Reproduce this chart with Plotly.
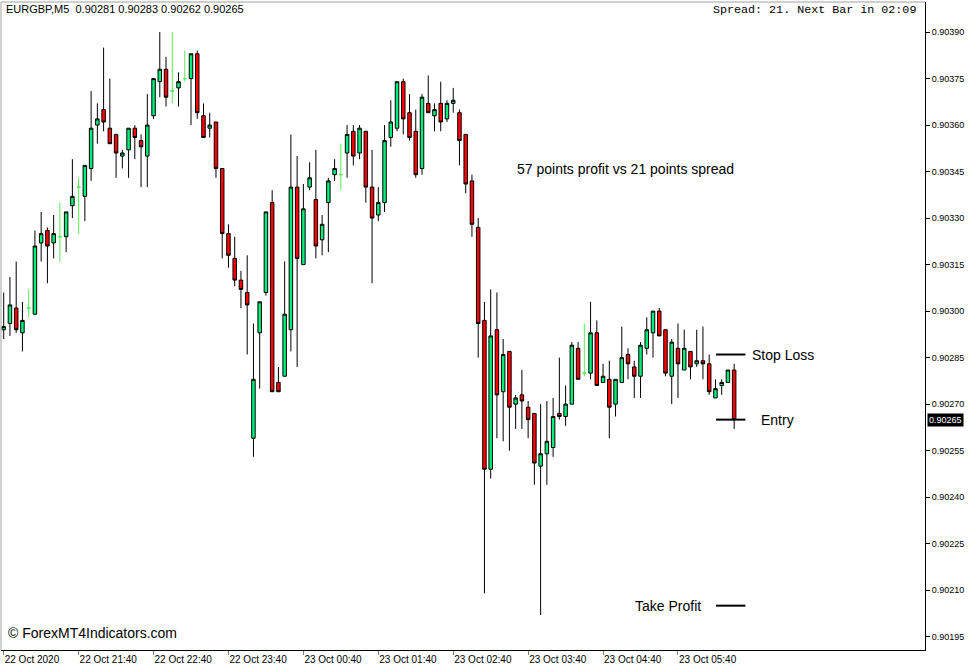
import plotly.graph_objects as go
import pandas as pd

start_time = "2020-10-22 20:40"

opens = [0.90294,0.90296,0.90301,0.90293,0.90301,0.90299,0.90322,0.90326,0.90322,0.90324,
         0.90324,0.90334,0.90340,0.90337,0.90346,0.90360,0.90365,0.90359,0.90357,0.90350,
         0.90352,0.90359,0.90355,0.90350,0.90363,0.90374,0.90378,0.90371,0.90372,0.90375,
         0.90375,0.90383,0.90363,0.90359,0.90361,0.90346,0.90325,0.90317,0.90310,0.90306,
         0.90259,0.90293,0.90306,0.90335,0.90277,0.90279,0.90294,0.90340,0.90315,0.90340,
         0.90336,0.90323,0.90335,0.90344,0.90344,0.90351,0.90358,0.90351,0.90358,0.90340,
         0.90331,0.90335,0.90356,0.90359,0.90374,0.90364,0.90358,0.90346,0.90367,0.90363,
         0.90367,0.90362,0.90367,0.90364,0.90357,0.90342,0.90327,0.90297,0.90249,0.90294,
         0.90274,0.90287,0.90270,0.90273,0.90269,0.90267,0.90250,0.90254,0.90256,0.90267,
         0.90266,0.90270,0.90288,0.90280,0.90280,0.90293,0.90277,0.90278,0.90270,0.90277,
         0.90286,0.90282,0.90279,0.90288,0.90293,0.90300,0.90294,0.90279,0.90288,0.90281,
         0.90287,0.90283,0.90284,0.90283,0.90272,0.90276,0.90277,0.90281]

highs = [0.90306,0.90311,0.90316,0.90303,0.90307,0.90326,0.90332,0.90327,0.90331,0.90335,
         0.90332,0.90349,0.90343,0.90347,0.90371,0.90367,0.90385,0.90375,0.90357,0.90352,
         0.90359,0.90360,0.90357,0.90370,0.90375,0.90390,0.90382,0.90390,0.90377,0.90384,
         0.90383,0.90384,0.90367,0.90364,0.90361,0.90346,0.90328,0.90324,0.90313,0.90318,
         0.90296,0.90303,0.90332,0.90339,0.90282,0.90316,0.90357,0.90350,0.90341,0.90348,
         0.90352,0.90331,0.90343,0.90349,0.90354,0.90360,0.90360,0.90360,0.90358,0.90352,
         0.90340,0.90360,0.90368,0.90374,0.90375,0.90370,0.90365,0.90370,0.90376,0.90367,
         0.90374,0.90368,0.90372,0.90365,0.90357,0.90344,0.90330,0.90303,0.90307,0.90306,
         0.90291,0.90287,0.90273,0.90281,0.90271,0.90267,0.90270,0.90271,0.90272,0.90285,
         0.90276,0.90290,0.90290,0.90296,0.90303,0.90297,0.90283,0.90284,0.90278,0.90295,
         0.90288,0.90284,0.90290,0.90298,0.90300,0.90301,0.90294,0.90291,0.90296,0.90294,
         0.90287,0.90294,0.90295,0.90286,0.90278,0.90278,0.90281,0.90283]

lows = [0.90291,0.90292,0.90293,0.90287,0.90298,0.90299,0.90316,0.90309,0.90317,0.90316,
        0.90319,0.90330,0.90325,0.90329,0.90342,0.90354,0.90358,0.90354,0.90343,0.90346,
        0.90343,0.90349,0.90340,0.90340,0.90362,0.90369,0.90366,0.90367,0.90366,0.90374,
        0.90360,0.90362,0.90356,0.90356,0.90343,0.90317,0.90314,0.90308,0.90301,0.90286,
        0.90253,0.90275,0.90305,0.90274,0.90274,0.90279,0.90287,0.90282,0.90315,0.90339,
        0.90317,0.90318,0.90319,0.90342,0.90339,0.90343,0.90347,0.90349,0.90335,0.90309,
        0.90329,0.90332,0.90353,0.90358,0.90357,0.90355,0.90343,0.90344,0.90364,0.90358,
        0.90358,0.90361,0.90364,0.90347,0.90338,0.90324,0.90285,0.90209,0.90246,0.90259,
        0.90258,0.90255,0.90262,0.90262,0.90259,0.90244,0.90202,0.90244,0.90253,0.90265,
        0.90263,0.90270,0.90278,0.90279,0.90278,0.90276,0.90277,0.90259,0.90266,0.90277,
        0.90278,0.90272,0.90272,0.90286,0.90285,0.90292,0.90279,0.90270,0.90272,0.90281,
        0.90278,0.90282,0.90278,0.90273,0.90272,0.90273,0.90277,0.90262]

closes = [0.90295,0.90302,0.90294,0.90297,0.90301,0.90321,0.90325,0.90321,0.90325,0.90324,
          0.90332,0.90337,0.90340,0.90347,0.90359,0.90362,0.90361,0.90354,0.90351,0.90351,
          0.90359,0.90356,0.90353,0.90360,0.90375,0.90378,0.90369,0.90371,0.90374,0.90375,
          0.90383,0.90364,0.90356,0.90360,0.90346,0.90325,0.90318,0.90310,0.90307,0.90302,
          0.90278,0.90303,0.90332,0.90274,0.90274,0.90299,0.90340,0.90317,0.90333,0.90343,
          0.90321,0.90328,0.90342,0.90346,0.90344,0.90357,0.90350,0.90359,0.90340,0.90330,
          0.90335,0.90355,0.90361,0.90374,0.90362,0.90356,0.90344,0.90369,0.90364,0.90365,
          0.90361,0.90367,0.90368,0.90355,0.90341,0.90328,0.90296,0.90249,0.90292,0.90273,
          0.90286,0.90269,0.90272,0.90271,0.90265,0.90251,0.90254,0.90258,0.90266,0.90266,
          0.90270,0.90289,0.90278,0.90280,0.90293,0.90276,0.90279,0.90269,0.90278,0.90285,
          0.90283,0.90279,0.90289,0.90294,0.90300,0.90292,0.90280,0.90290,0.90283,0.90288,
          0.90282,0.90284,0.90283,0.90274,0.90275,0.90277,0.90281,0.90265]

tick_times = ["2020-10-22 20:40", "2020-10-22 21:40", "2020-10-22 22:40", "2020-10-22 23:40",
              "2020-10-23 00:40", "2020-10-23 01:40", "2020-10-23 02:40", "2020-10-23 03:40",
              "2020-10-23 04:40", "2020-10-23 05:40"]
tick_labels = ["22 Oct 2020", "22 Oct 21:40", "22 Oct 22:40", "22 Oct 23:40", "23 Oct 00:40",
               "23 Oct 01:40", "23 Oct 02:40", "23 Oct 03:40", "23 Oct 04:40", "23 Oct 05:40"]
price_ticks = [0.90195, 0.90210, 0.90225, 0.90240, 0.90255, 0.90270, 0.90285,
               0.90300, 0.90315, 0.90330, 0.90345, 0.90360, 0.90375, 0.90390]

stop_loss = 0.90286
entry = 0.90265
take_profit = 0.90205
level_x0 = "2020-10-23 06:10:30"
level_x1 = "2020-10-23 06:34:00"
x_range = ["2020-10-22 20:37:50", "2020-10-23 08:57:50"]
y_range = [0.901907, 0.903997]

BULL = "#00F07A"
BEAR = "#FF0000"
DOJI = "#55F055"

times = pd.date_range(start_time, periods=len(opens), freq="5min")
df = pd.DataFrame({"t": times, "o": opens, "h": highs, "l": lows, "c": closes})
doji = df[df.o == df.c]
body = df[df.o != df.c]

fig = go.Figure()
fig.add_trace(go.Candlestick(
    x=body.t, open=body.o, high=body.h, low=body.l, close=body.c,
    increasing=dict(line=dict(color="black", width=1), fillcolor=BULL),
    decreasing=dict(line=dict(color="black", width=1), fillcolor=BEAR),
    whiskerwidth=0, showlegend=False, hoverinfo="skip"))
fig.add_trace(go.Candlestick(
    x=doji.t, open=doji.o, high=doji.h, low=doji.l, close=doji.c,
    increasing=dict(line=dict(color=DOJI, width=1), fillcolor=DOJI),
    decreasing=dict(line=dict(color=DOJI, width=1), fillcolor=DOJI),
    whiskerwidth=0, showlegend=False, hoverinfo="skip"))

for lvl in [stop_loss, entry, take_profit]:
    fig.add_shape(type="line", xref="x", yref="y", x0=level_x0, x1=level_x1,
                  y0=lvl, y1=lvl, line=dict(color="black", width=2))

# border lines (left / top gray)
fig.add_shape(type="line", xref="paper", yref="paper", x0=0, x1=0, y0=0, y1=1,
              line=dict(color="#A0A0A0", width=1))
fig.add_shape(type="line", xref="paper", yref="paper", x0=0, x1=1, y0=1, y1=1,
              line=dict(color="#A0A0A0", width=1))

txt = dict(family="Liberation Sans, Arial, sans-serif", color="black")
fig.add_annotation(x="2020-10-23 06:38:00", y=stop_loss, xref="x", yref="y", text="Stop Loss",
                   showarrow=False, xanchor="left", yanchor="middle", font=dict(size=14, **txt))
fig.add_annotation(x="2020-10-23 06:45:00", y=entry, xref="x", yref="y", text="Entry",
                   showarrow=False, xanchor="left", yanchor="middle", font=dict(size=14, **txt))
fig.add_annotation(x="2020-10-23 06:00:15", y=take_profit, xref="x", yref="y", text="Take Profit",
                   showarrow=False, xanchor="right", yanchor="middle", font=dict(size=14, **txt))
fig.add_annotation(x=0.6757, y=0.7423, xref="paper", yref="paper",
                   text="57 points profit vs 21 points spread",
                   showarrow=False, xanchor="center", yanchor="middle", font=dict(size=14, **txt))
fig.add_annotation(x=0.005, y=0.0262, xref="paper", yref="paper", text="© ForexMT4Indicators.com",
                   showarrow=False, xanchor="left", yanchor="middle", font=dict(size=14, **txt))
fig.add_annotation(x=0.003, y=0.989, xref="paper", yref="paper",
                   text="EURGBP,M5  0.90281 0.90283 0.90262 0.90265",
                   showarrow=False, xanchor="left", yanchor="middle", font=dict(size=11, **txt))
fig.add_annotation(x=0.9924, y=0.987, xref="paper", yref="paper",
                   text="Spread: 21. Next Bar in 02:09",
                   showarrow=False, xanchor="right", yanchor="middle",
                   font=dict(size=11.7, family="Liberation Mono, Courier New, monospace", color="black"))
fig.add_annotation(x=1, y=entry, xref="paper", yref="y", text="0.90265",
                   showarrow=False, xanchor="left", yanchor="middle", xshift=2,
                   bgcolor="black", borderpad=1,
                   font=dict(size=9, family="Liberation Sans, Arial, sans-serif", color="white"))

fig.update_layout(
    width=977, height=672,
    margin=dict(l=1, r=52, t=2, b=22),
    paper_bgcolor="white", plot_bgcolor="white",
    showlegend=False, boxgap=0.2,
    xaxis=dict(type="date", range=x_range, rangeslider=dict(visible=False),
               tickvals=tick_times, ticktext=tick_labels, ticklabelposition="outside right",
               ticks="outside", ticklen=4, tickcolor="#808080",
               showgrid=False, zeroline=False, showline=True, linecolor="black", linewidth=1,
               tickfont=dict(size=10, family="Liberation Sans, Arial, sans-serif", color="black")),
    yaxis=dict(side="right", range=y_range, tickvals=price_ticks, tickformat=".5f",
               ticks="outside", ticklen=4, tickcolor="black",
               showgrid=False, zeroline=False, showline=True, linecolor="black", linewidth=1,
               tickfont=dict(size=9, family="Liberation Sans, Arial, sans-serif", color="black")),
)

fig.write_html("out.html", config={"displayModeBar": False},
               post_script="document.body.style.margin='0px';document.body.style.overflow='hidden';")
